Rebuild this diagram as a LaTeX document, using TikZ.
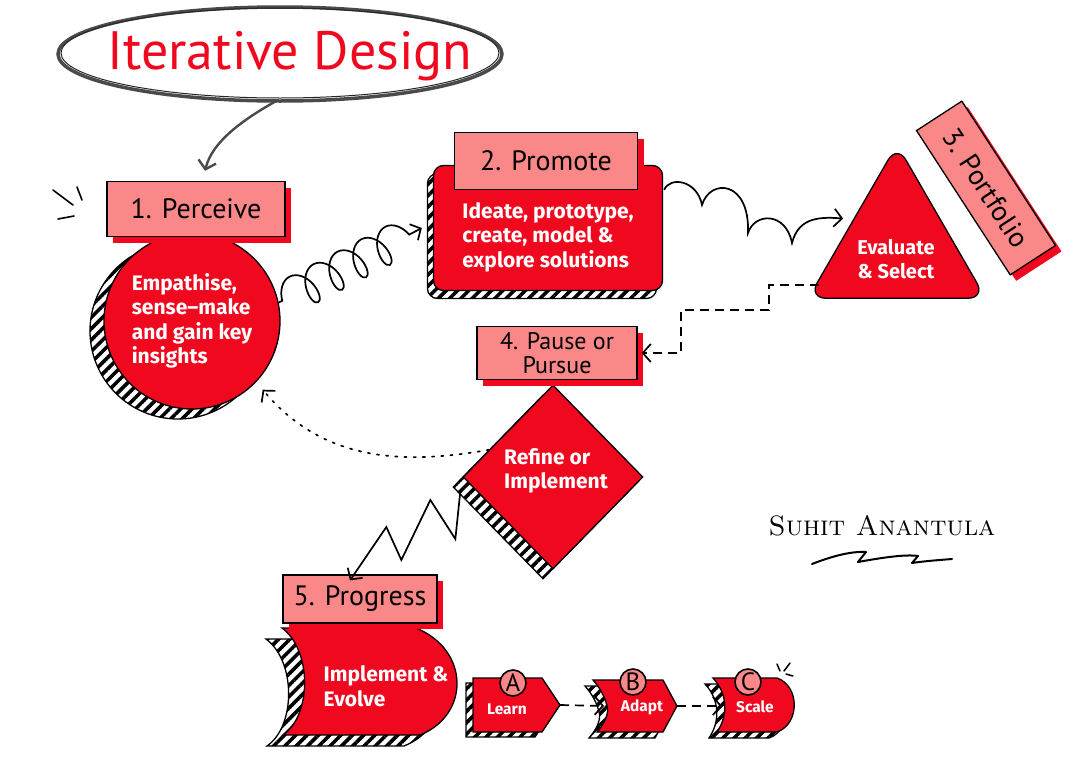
\documentclass[tikz,border=0pt]{standalone}
\usepackage{fontspec}
\newfontfamily\tagfont{PT Sans}
\newfontfamily\bodyfont{Fira Sans}
\usetikzlibrary{arrows.meta, positioning, shapes.geometric, shadows, patterns.meta, decorations.pathmorphing, calc}
\definecolor{cred}{HTML}{F0081F}
\definecolor{cpink}{HTML}{FA8888}
\definecolor{cgrey}{HTML}{4A4A4A}
\tikzdeclarepattern{
  name=hatch, type=uncolored,
  bounding box={(0pt,-2pt) and (8pt,2pt)},
  tile size={(8pt,8pt)},
  tile transformation={rotate=45},
  code={\draw[line width=3.6pt] (0pt,0pt) -- (8pt,0pt);}
}
\tikzset{
  every picture/.style={line width=1.3pt},
  tag/.style={draw=black, fill=cpink, font=\tagfont\fontsize{28}{28}\selectfont, align=center, inner sep=2pt,
    general shadow={fill=cred, shadow xshift=6pt, shadow yshift=-6pt}},
  blob/.style={draw=black, fill=cred},
  blobtext/.style={text=white, font=\bodyfont\bfseries\fontsize{21}{24.5}\selectfont, align=left, inner sep=0pt},
  hatched/.style 2 args={general shadow={draw=black, pattern=hatch, pattern color=black, shadow xshift=#1, shadow yshift=#2}},
  hatchfill/.style={draw=black, pattern=hatch, pattern color=black},
  barb/.style={-{Straight Barb[length=8pt, width=18pt]}, line width=1.7pt},
  dashlink/.style={barb, dash pattern=on 9pt off 6pt},
  letter/.style={circle, draw=black, fill=cpink, inner sep=0pt, minimum size=26pt, line width=1.6pt, font=\tagfont\fontsize{25}{25}\selectfont},
  small/.style={font=\bodyfont\bfseries\fontsize{15.5}{17}\selectfont},
}
% bottom row banners
\newcommand\implementpath{(282,628) -- (416,628) .. controls (470,650) and (470,715) .. (420,735) -- (283,735) .. controls (312,715) and (312,650) .. cycle}
\newcommand\learnpath{(473,678) -- (542,678) -- (560,705) -- (542,732) -- (473,732) -- cycle}
\newcommand\adaptpath{(593,680) -- (663,680) -- (677,706) -- (663,732) -- (597,732) .. controls (606,722) and (609,712) .. (607,706) .. controls (605,697) and (600,688) .. cycle}
\newcommand\scalepath{(713,678) -- (777,678) .. controls (800,686) and (800,724) .. (777,732) -- (717,732) .. controls (728,716) and (728,694) .. cycle}

\begin{document}
\begin{tikzpicture}[x=1pt, y=-1pt]
  \fill[white] (0,0) rectangle (1077,782);
  \useasboundingbox (0,0) rectangle (1077,782);

  % title
  \node[text=cred, font=\tagfont\fontsize{54}{54}\selectfont] (title) at (290,56) {Iterative Design};
  \draw[cgrey, line width=3.5pt] ($(title.center)+(-10,-2)$) ellipse[x radius=222, y radius=47];
  \draw[black!85, line width=1pt] ($(title.center)+(-10,-3)$) ellipse[x radius=219, y radius=45];
  \coordinate (titlefoot) at ($(title.center)+(-12,44)$);

  % 1. perceive
  \draw[line width=1.6pt, line cap=round] (53,190) -- (73,205) (77,187) -- (82,200) (58,219) -- (74,216);
  \node[blob, blobtext, circle, minimum size=176pt, hatched={-14pt}{-10pt}] (perceive) at (192,321)
    {Empathise,\\sense–make\\and gain key\\insights};
  \node[tag, minimum width=178pt, minimum height=55pt] (perceivetag) at (196,209) {1. Perceive};

  % 2. promote
  \node[blob, rounded corners=10pt, minimum width=229pt, minimum height=125pt, hatched={-6pt}{-8pt}] (promote) at (548,228) {};
  \node[blobtext] (promotetext) at (548,237) {Ideate, prototype,\\create, model \&\\explore solutions};
  \node[tag, minimum width=183pt, minimum height=57pt] (promotetag) at (546,161) {2. Promote};

  % 3. portfolio
  \node[blob, regular polygon, regular polygon sides=3, rounded corners=18pt, minimum size=205pt, inner sep=0pt] (evaluate) at (897,247) {};
  \node[blobtext, align=center, font=\bodyfont\bfseries\fontsize{20}{24}\selectfont] (evaluatetext) at (896,259) {Evaluate\\\& Select};
  \node[tag, rotate=-57, minimum width=172pt, minimum height=54pt] (portfoliotag) at (986,188) {3. Portfolio};

  % 4. pause or pursue
  \node[blob, diamond, minimum width=180pt, minimum height=184pt, inner sep=0pt, hatched={-10pt}{-10pt}] (refine) at (553,477) {};
  \node[blobtext] (refinetext) at (556,471) {Refine or\\Implement};
  \node[tag, minimum width=160pt, minimum height=53pt, font=\tagfont\fontsize{24}{24}\selectfont] (pausetag) at (557,353) {4. Pause or\\Pursue};

  % 5. progress
  \draw[hatchfill, shift={(-16,11)}] \implementpath;
  \draw[blob] \implementpath;
  \node[blobtext] (implement) at (386,686) {Implement \&\\Evolve};
  \node[tag, minimum width=154pt, minimum height=48pt] (progresstag) at (360,599) {5. Progress};

  \draw[hatchfill, shift={(-7,5)}] \learnpath;
  \draw[blob] \learnpath;
  \node[blobtext, small] (learn) at (507,709) {Learn};
  \node[letter] (marka) at (513,683) {A};
  \coordinate (learntip) at (560,705);

  \draw[hatchfill, shift={(-8,6)}] \adaptpath;
  \draw[blob] \adaptpath;
  \node[blobtext, small] (adapt) at (642,707) {Adapt};
  \node[letter] (markb) at (633,682) {B};
  \coordinate (adaptnotch) at (606,706);
  \coordinate (adapttip) at (677,706);

  \draw[hatchfill, shift={(-8,6)}] \scalepath;
  \draw[blob] \scalepath;
  \node[blobtext, small] (scale) at (755,707) {Scale};
  \node[letter] (markc) at (748,682) {C};
  \coordinate (scalenotch) at (724,706);
  \draw[line width=1.5pt, line cap=round] (777,664) -- (780,671) (790,663) -- (784,671) (786,674) -- (793,676);

  % connectors
  \draw[barb, cgrey, line width=2.4pt] (titlefoot) .. controls (242,120) and (212,142) .. ($(perceivetag.north)+(9,-10)$);
  \draw[barb, decorate, decoration={coil, amplitude=18pt, segment length=27pt, aspect=0.6, pre length=4pt, post length=12pt}]
    (perceive.12) -- ($(promote.west)+(-11,0)$);
  \draw[barb] ($(promote.north east)+(1,25)$) .. controls (670,176) and (697,180) .. (702,205)
    .. controls (710,178) and (750,180) .. (748,233) .. controls (755,212) and (786,212) .. (792,243)
    .. controls (798,220) and (815,216) .. ($(evaluate.152)+(-8,-4)$);
  \draw[dashlink] ($(evaluate.corner 2)+(12,-14)$) -- ++(-50,0) -- ++(0,25) -- ++(-88,0) |- ($(pausetag.east)+(4,0)$);
  \draw[barb, dash pattern=on 2.2pt off 7pt, line cap=round] (refine.157) to[out=190, in=-50] ($(perceive.-45)+(8,6)$);
  \draw[barb] ($(refine.west)+(-2,14)$) -- ++(-5,48) -- ++(-25,-39) -- ++(-29,60) -- ++(-15,-33) -- ($(progresstag.north)+(-10,6)$);
  \draw[dashlink, shorten >=2pt] (learntip) -- (adaptnotch);
  \draw[dashlink, shorten >=2pt] (adapttip) -- (scalenotch);

  % signature
  \node[font=\fontsize{28}{28}\selectfont\scshape] (sign) at (882,526) {Suhit Anantula};
  \draw[line width=2pt, line cap=round, line join=round] (812,564) .. controls (830,557) and (850,551) .. (866,552)
    -- (858,562) .. controls (880,558) and (905,554) .. (918,556) -- (912,563) .. controls (925,561) and (940,560) .. (952,559);
\end{tikzpicture}
\end{document}
